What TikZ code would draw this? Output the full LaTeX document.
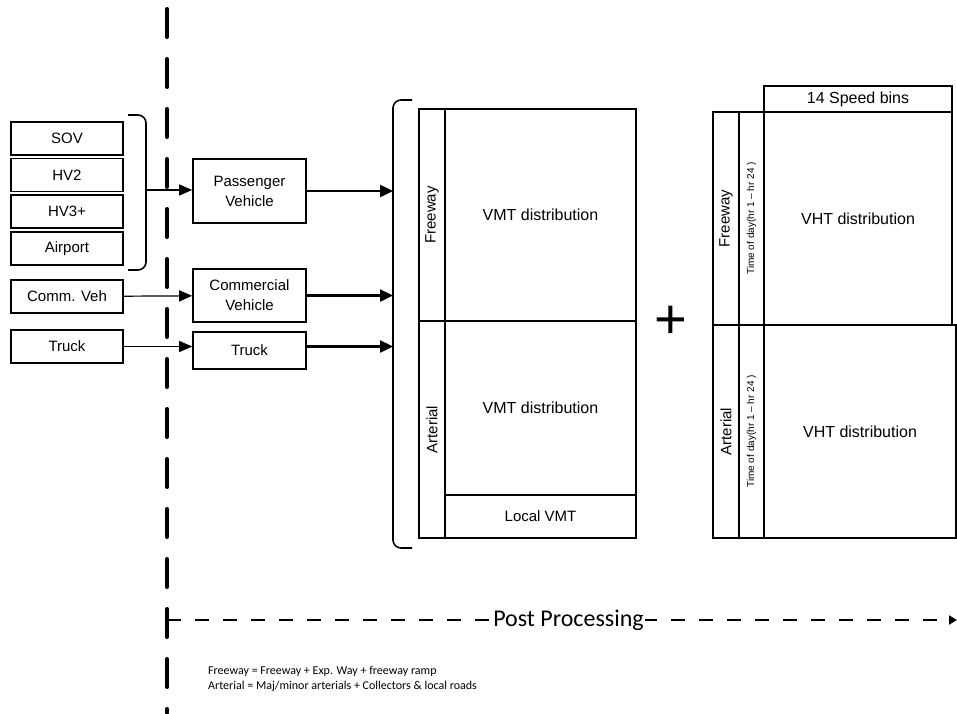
\documentclass[tikz,border=0pt]{standalone}
\usepackage{fontspec}
\setmainfont{Liberation Sans}
\newfontfamily\notefont{Carlito}
\usetikzlibrary{arrows.meta,positioning}

\begin{document}
\begin{tikzpicture}[
  x=1pt,y=-1pt,
  font=\fontsize{15}{18}\selectfont,
  node distance=2pt and 2pt,
  src/.style={draw,line width=1.6pt,minimum width=112pt,minimum height=33pt,inner sep=0pt,align=center},
  veh/.style={draw,line width=1.6pt,minimum width=113pt,inner sep=0pt,align=center,font=\fontsize{15}{20}\selectfont},
  cell/.style={draw,line width=2.6pt,inner sep=0pt,align=center,font=\fontsize{16}{19}\selectfont},
  side/.style={cell,rotate=90,font=\fontsize{15}{18}\selectfont},
  tod/.style={side,font=\fontsize{10}{12}\selectfont},
  arr/.style={-{Triangle[length=13pt,width=11pt]},line width=1.2pt},
  tarr/.style={-{Triangle[length=13pt,width=12pt]},line width=2.4pt},
  bracket/.style={line width=1.6pt,rounded corners=8pt},
  note/.style={anchor=west,align=left,inner sep=0pt,font=\notefont\fontsize{12}{15}\selectfont}
]
\useasboundingbox (0,0) rectangle (957,713);
\coordinate (divT) at (167,8.75);
\coordinate (divB) at (167,713);
\draw[line width=3.5pt,line cap=round,dash pattern=on 28.5pt off 21.5pt] (divT) -- (divB);

\node[src] (sov) at (67,138.5) {SOV};
\node[src,below=of sov] (hv2) {HV2};
\node[src,below=of hv2] (hv3) {HV3+};
\node[src,below=of hv3] (air) {Airport};
\node[src] (comm) at (67,296.5) {Comm. Veh};
\node[src] (truck) at (67,346.5) {Truck};

\node[veh,minimum height=64pt] (pass) at (249.5,191) {Passenger\\Vehicle};
\node[veh,minimum height=53pt] (cveh) at (249.5,295.5) {Commercial\\Vehicle};
\node[veh,minimum height=37pt] (tveh) at (249.5,350.5) {Truck};

\coordinate (grp) at (146,190);
\draw[bracket] (128,115) -| (grp) |- (128,270);
\coordinate (tab) at (393,321);
\draw[bracket] (412,100) -| (tab) |- (412,548);

\draw[arr] (grp) -- (grp -| pass.west);
\draw[arr] (comm) -- (cveh);
\draw[arr] (truck.east) -- (truck.east -| tveh.west);
\draw[tarr] (pass.east) -- (pass.east -| tab);
\draw[tarr] (cveh.east) -- (cveh.east -| tab);
\draw[tarr] (tveh.east |- truck.east) -- (truck.east -| tab);

\node[side,minimum width=212pt,minimum height=26pt] (fwyL) at (432,215) {Freeway};
\node[side,minimum width=217pt,minimum height=26pt] (artL) at (432,429.5) {Arterial};
\node[cell,minimum width=191pt,minimum height=212pt] (vmtF) at (540.5,215) {VMT distribution};
\node[cell,minimum width=191pt,minimum height=174pt] (vmtA) at (540.5,408) {VMT distribution};
\node[cell,minimum width=191pt,minimum height=43pt,font=\fontsize{15}{18}\selectfont] (lvmt) at (540.5,516.5) {Local VMT};

\node[font=\fontsize{56}{56}\selectfont,inner sep=0pt] (plus) at (671,322) {+};

\node[cell,minimum width=188pt,minimum height=26pt] (bins) at (858,99) {14 Speed bins};
\node[side,minimum width=213pt,minimum height=26pt] (fwyR) at (726,218.5) {Freeway};
\node[tod,minimum width=213pt,minimum height=25pt] (todF) at (751.5,218.5) {Time of day(hr 1 -- hr 24 )};
\node[cell,minimum width=188pt,minimum height=213pt] (vhtF) at (858,218.5) {VHT distribution};
\node[side,minimum width=213pt,minimum height=26pt] (artR) at (726,431.5) {Arterial};
\node[tod,minimum width=213pt,minimum height=25pt] (todA) at (751.5,431.5) {Time of day(hr 1 -- hr 24 )};
\node[cell,minimum width=192pt,minimum height=213pt] (vhtA) at (860,431.5) {VHT distribution};

\coordinate (ppS) at (167,620);
\coordinate (ppE) at (957,620);
\draw[line width=2.3pt,dash pattern=on 14pt off 14pt,-{Triangle[length=8pt,width=9pt]}] (ppS) -- (ppE);
\node[fill=white,inner sep=1pt,font=\notefont\fontsize{24}{28}\selectfont] (pp) at (568.5,620) {Post Processing};

\node[note] (legend) at (208,679) {Freeway = Freeway + Exp. Way + freeway ramp\\Arterial = Maj/minor arterials + Collectors \& local roads};
\end{tikzpicture}
\end{document}
